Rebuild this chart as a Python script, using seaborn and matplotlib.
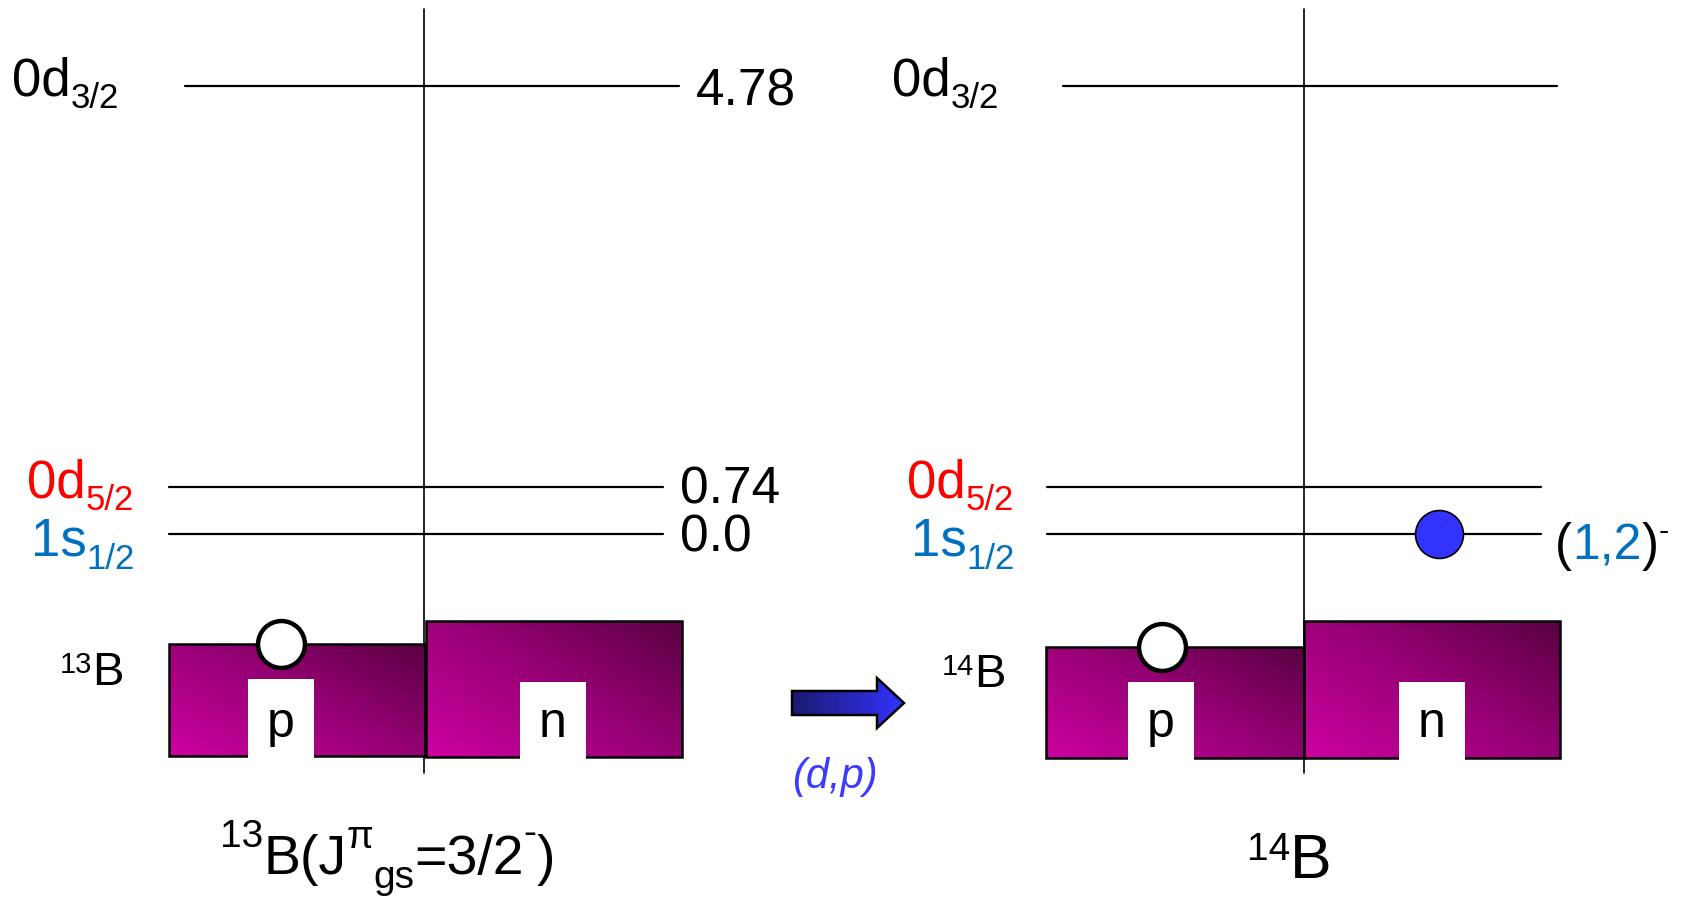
import numpy as np
import pandas as pd
import seaborn as sns
import matplotlib.pyplot as plt
from matplotlib.patches import Rectangle, Polygon
from matplotlib.colors import LinearSegmentedColormap

# ---- data ----
orbitals = ["0d", "0d", "1s"]
orbital_j = ["3/2", "5/2", "1/2"]
orbital_colors = ["black", "#FF0000", "#0070C0"]
energies_13b = ["4.78", "0.74", "0.0"]
mass_numbers = ["13", "14"]
nucleons = ["p", "n"]
reaction = "(d,p)"
spin_14b = "1,2"

# ---- layout (image pixels, y downwards) ----
W, H = 1684, 899
level_y = [86, 487, 534]
level_x0 = [185, 169, 169]
level_len = 494
panel_dx = [0, 878]
label_x = [[12, 27, 31], [892, 907, 911]]
label_base = [95, 497, 556]

sns.set_theme(style="white")
plt.rcParams["font.family"] = ["Liberation Sans", "DejaVu Sans"]

fig = plt.figure(figsize=(16.84, 8.99), dpi=100)
ax = fig.add_axes([0, 0, 1, 1])
renderer = fig.canvas.get_renderer()


def runs(x, y, parts, **kw):
    # draw text pieces one after another: (text, size, color, dy)
    for s, size, color, dy in parts:
        t = ax.text(x, y + dy, s, fontsize=size, color=color,
                    ha="left", va="baseline", **kw)
        x += t.get_window_extent(renderer).width
    return x


# level lines
rows = []
for p, dx in enumerate(panel_dx):
    for i, y in enumerate(level_y):
        x0 = level_x0[i] + dx
        rows += [dict(seg=f"{p}{i}", x=x0, y=y), dict(seg=f"{p}{i}", x=x0 + level_len, y=y)]
    vx = 424 + panel_dx[p] + (2 if p else 0)
    rows += [dict(seg=f"v{p}", x=vx, y=9), dict(seg=f"v{p}", x=vx, y=773)]
lines = pd.DataFrame(rows)
sns.lineplot(data=lines[~lines.seg.str.startswith("v")], x="x", y="y", units="seg",
             estimator=None, color="black", linewidth=1.6, ax=ax, sort=False)
sns.lineplot(data=lines[lines.seg.str.startswith("v")], x="x", y="y", units="seg",
             estimator=None, color="black", linewidth=1.2, ax=ax, sort=False)

# orbital labels
for p in range(2):
    for i in range(3):
        runs(label_x[p][i], label_base[i],
             [(orbitals[i], 38, orbital_colors[i], 0),
              (orbital_j[i], 25, orbital_colors[i], 13)])

# energies of 13B
for i, e in enumerate(energies_13b):
    ax.text(696 if i == 0 else 680, [105, 503, 551][i], e, fontsize=37,
            ha="left", va="baseline", color="black")

# Fermi-sea blocks with gradient
cmap = LinearSegmentedColormap.from_list("sea", ["#CC00A0", "#9A0078", "#5A0042"])
u = np.linspace(0, 1, 200)
v = np.linspace(1, 0, 100)
U, V = np.meshgrid(u, v)
grad = 0.55 * U + 0.45 * V

blocks = [  # x0, x1, top, bottom, notch_x0, notch_top
    [(169, 425, 644, 756, 248, 679), (426, 682, 621, 757, 520, 682)],
    [(1046, 1304, 647, 758, 1128, 682), (1304, 1560, 621, 758, 1399, 682)],
]
for p in range(2):
    for k, (x0, x1, top, bot, nx, nt) in enumerate(blocks[p]):
        ax.imshow(grad, cmap=cmap, extent=(x0, x1, bot, top), origin="upper",
                  aspect="auto", zorder=2)
        ax.add_patch(Rectangle((x0, top), x1 - x0, bot - top, fill=False,
                               edgecolor="black", linewidth=1.8, zorder=3))
        ax.add_patch(Rectangle((nx, nt), 66, bot - nt + 2, facecolor="white",
                               edgecolor="none", zorder=4))
        ax.text(nx + 33, 737, nucleons[k], fontsize=36, ha="center",
                va="baseline", color="black", zorder=5)

# holes and particle
sns.scatterplot(x=[281, 1162], y=[644, 647], s=1142, color="white",
                edgecolor="black", linewidth=3.2, ax=ax, zorder=6, legend=False)
sns.scatterplot(x=[1439], y=[534], s=1190, color="#3333FF",
                edgecolor="black", linewidth=1.2, ax=ax, zorder=6, legend=False)

# nucleus labels beside blocks
runs(60, 685, [(mass_numbers[0], 21, "black", -12), ("B", 34, "black", 0)])
runs(942, 687, [(mass_numbers[1], 21, "black", -12), ("B", 34, "black", 0)])

# (1,2)- label
runs(1555, 560, [("(", 37, "black", 0), (spin_14b, 36, "#0070C0", 0),
                 (")", 37, "black", 0), ("-", 22, "black", -20)])

# reaction arrow
arrow = [(792, 691), (877, 691), (877, 678), (904, 703), (877, 728), (877, 715), (792, 715)]
acmap = LinearSegmentedColormap.from_list("arr", ["#1A1A70", "#3333FF"])
im = ax.imshow(np.linspace(0, 1, 200)[None, :], cmap=acmap,
               extent=(792, 904, 728, 678), aspect="auto", zorder=2)
poly = Polygon(arrow, closed=True, fill=False, edgecolor="black", linewidth=1.8, zorder=3)
ax.add_patch(poly)
im.set_clip_path(poly)
ax.text(835, 788, reaction, fontsize=30, style="italic", color="#3B3BFF",
        ha="center", va="baseline")

# bottom titles
runs(220, 874, [(mass_numbers[0], 28, "black", -27), ("B(J", 40, "black", 0),
                ("\u03c0", 28, "black", -26), ("gs", 28, "black", 14),
                ("=3/2", 40, "black", 0), ("-", 28, "black", -30),
                (")", 40, "black", 0)])
runs(1247, 878, [(mass_numbers[1], 28, "black", -18), ("B", 45, "black", 0)])

ax.set_xlim(0, W)
ax.set_ylim(H, 0)
ax.axis("off")
fig.savefig("out.png", dpi=100, facecolor="white")
